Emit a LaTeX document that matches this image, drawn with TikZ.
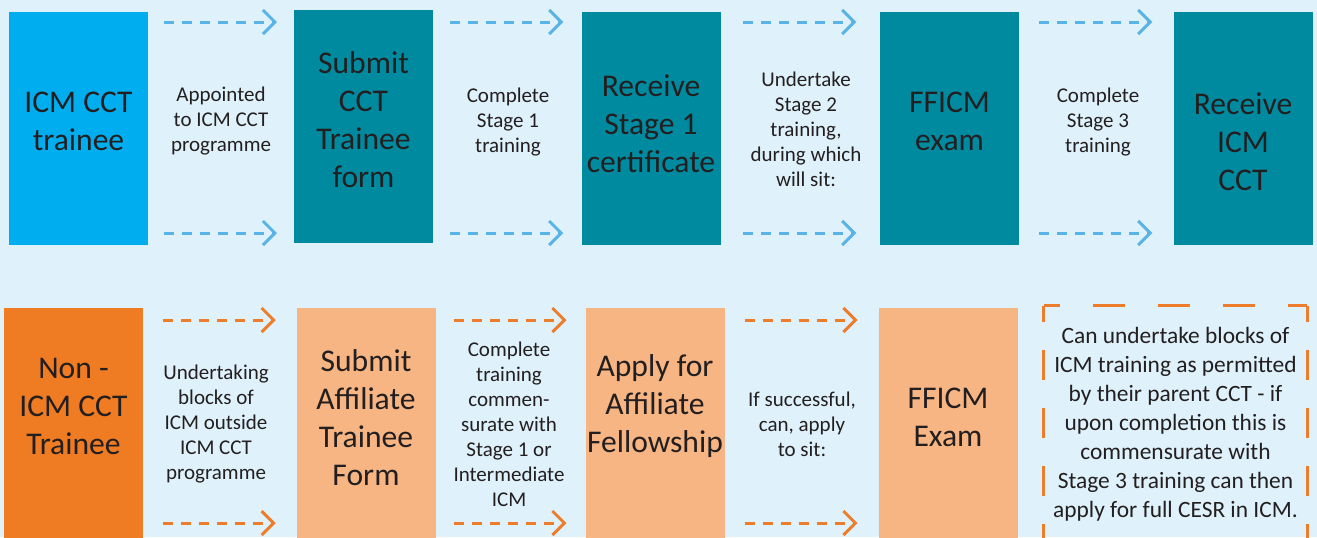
\documentclass[tikz,border=0pt]{standalone}
\usepackage{fontspec}
\setmainfont{Carlito}
\usetikzlibrary{arrows.meta,calc}
\definecolor{bgblue}{HTML}{DFF1FB}
\definecolor{cctcyan}{HTML}{00AEEF}
\definecolor{cctteal}{HTML}{008A9F}
\definecolor{affdark}{HTML}{EF7B22}
\definecolor{afflight}{HTML}{F6B583}
\definecolor{arrblue}{HTML}{5AB3E6}
\definecolor{arrorange}{HTML}{EE7D2B}
\definecolor{txtdark}{HTML}{231F20}
\tikzset{
  box/.style={minimum width=69.5pt, minimum height=116.5pt, inner sep=0pt, outer sep=0pt},
  cyanbox/.style={box, fill=cctcyan},
  tealbox/.style={box, fill=cctteal},
  darkbox/.style={box, fill=affdark, minimum height=118.5pt},
  lightbox/.style={box, fill=afflight, minimum height=118.5pt},
  bigtxt/.style={font=\fontsize{15.8}{19}\selectfont, align=center, text=txtdark},
  smalltxt/.style={font=\fontsize{10.5}{12.5}\selectfont, align=center, text=txtdark},
  notetxt/.style={font=\fontsize{11.7}{14.5}\selectfont, align=center, text=txtdark,
    minimum width=131.5pt, minimum height=118pt, inner sep=0pt},
  bluearr/.style={draw=arrblue, line width=1.5pt, dash pattern=on 5pt off 4pt,
    -{Straight Barb[length=6pt,width=12pt]}},
  orangearr/.style={bluearr, draw=arrorange},
  sidedash/.style={draw=arrorange, line width=1.5pt, dash pattern=on 15pt off 14pt, dash phase=7pt},
  topdash/.style={draw=arrorange, line width=1.5pt, dash pattern=on 16pt off 16.5pt, dash phase=8pt}
}
\begin{document}
\begin{tikzpicture}[x=0.5pt,y=-0.5pt]
\fill[bgblue] (0,0) rectangle (1317,537);
\useasboundingbox (0,0) rectangle (1317,537);

% ICM CCT route
\node[cyanbox] (t1) at (78.5,128.5) {};
\node[tealbox] (t2) at (363.5,126.5) {};
\node[tealbox] (t3) at (651,128.5) {};
\node[tealbox] (t4) at (949.5,128.5) {};
\node[tealbox] (t5) at (1243,128.5) {};
\node[bigtxt] (t1txt) at (78.5,121) {ICM CCT\\trainee};
\node[bigtxt] (t2txt) at (363.5,120) {Submit\\CCT\\Trainee\\form};
\node[bigtxt] (t3txt) at (651,123.5) {Receive\\Stage 1\\certificate};
\node[bigtxt] (t4txt) at (949.5,121) {FFICM\\exam};
\node[bigtxt] (t5txt) at (1243,141.5) {Receive\\ICM\\CCT};
\node[smalltxt] (g1) at (221,121) {Appointed\\to ICM CCT\\programme};
\node[smalltxt] (g2) at (508,122.5) {Complete\\Stage 1\\training};
\node[smalltxt] (g3) at (806,129) {Undertake\\Stage 2\\training,\\during which\\will sit:};
\node[smalltxt] (g4) at (1098,122.5) {Complete\\Stage 3\\training};
\foreach \a/\b in {t1/t2,t2/t3,t3/t4,t4/t5}{
  \coordinate (mid) at ($(\a.east)!0.5!(\b.west)$);
  \draw[bluearr] ($(mid|-t1.north)+(-57,10)$) -- ($(mid|-t1.north)+(56,10)$);
  \draw[bluearr] ($(mid|-t1.south)+(-57,-12)$) -- ($(mid|-t1.south)+(56,-12)$);
}

% non-CCT route
\node[darkbox] (b1) at (73.5,426.5) {};
\node[lightbox] (b2) at (366,426.5) {};
\node[lightbox] (b3) at (655,426.5) {};
\node[lightbox] (b4) at (948,426.5) {};
\node[bigtxt] (b1txt) at (73.5,406) {Non -\\ICM CCT\\Trainee};
\node[bigtxt] (b2txt) at (366,417.5) {Submit\\Affiliate\\Trainee\\Form};
\node[bigtxt] (b3txt) at (655,406.5) {Apply for\\Affiliate\\Fellowship};
\node[bigtxt] (b4txt) at (948,417) {FFICM\\Exam};
\node[smalltxt] (h1) at (216,424) {Undertaking\\blocks of\\ICM outside\\ICM CCT\\programme};
\node[smalltxt] (h2) at (509,424) {Complete\\training\\commen-\\surate with\\Stage 1 or\\Intermediate\\ICM};
\node[smalltxt] (h3) at (802,424) {If successful,\\can, apply\\to sit:};
\foreach \a/\b in {b1/b2,b2/b3,b3/b4}{
  \coordinate (mid) at ($(\a.east)!0.5!(\b.west)$);
  \draw[orangearr] ($(mid|-b1.north)+(-57,12)$) -- ($(mid|-b1.north)+(56,12)$);
  \draw[orangearr] ($(mid|-b1.south)+(-57,-22)$) -- ($(mid|-b1.south)+(56,-22)$);
}

% note
\node[notetxt] (note) at (1175.5,424) {Can undertake blocks of\\ICM training as permitted\\by their parent CCT - if\\upon completion this is\\commensurate with\\Stage 3 training can then\\apply for full CESR in ICM.};
\draw[sidedash] (note.north west) -- (note.south west);
\draw[sidedash] (note.north east) -- (note.south east);
\draw[topdash] (note.north west) -- (note.north east);
\end{tikzpicture}
\end{document}
